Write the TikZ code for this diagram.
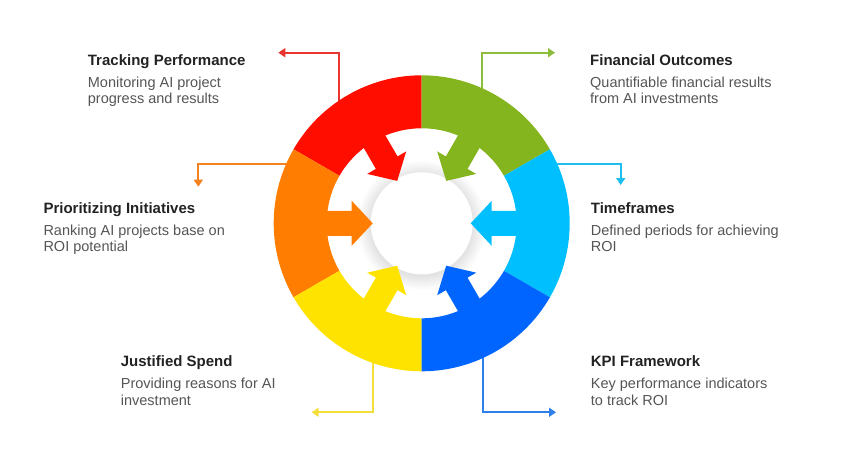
\documentclass[tikz,border=0pt]{standalone}
\usepackage{fontspec}
\setmainfont{Liberation Sans}
\usetikzlibrary{arrows.meta}
\definecolor{cred}{HTML}{FF0E00}
\definecolor{cgreen}{HTML}{85B51E}
\definecolor{ccyan}{HTML}{00BFFF}
\definecolor{cblue}{HTML}{0064FF}
\definecolor{cyellow}{HTML}{FFE300}
\definecolor{corange}{HTML}{FF7D00}
\definecolor{lred}{HTML}{E8352D}
\definecolor{lgreen}{HTML}{8DBD3C}
\definecolor{lcyan}{HTML}{1EBEF0}
\definecolor{lblue}{HTML}{2F7FE8}
\definecolor{lyellow}{HTML}{F5DE3A}
\definecolor{lorange}{HTML}{F58220}
\definecolor{ttl}{HTML}{222222}
\definecolor{dsc}{HTML}{555555}
\tikzset{
  titletext/.style={anchor=base west, inner sep=0pt, text=ttl, font=\fontsize{15}{18}\selectfont\bfseries},
  desctext/.style={anchor=base west, inner sep=0pt, text=dsc, font=\fontsize{14.5}{17}\selectfont},
  conn/.style={line width=1.7pt, -{Triangle[length=7pt,width=9pt]}},
}
\newcommand{\segm}[2]{%
  \fill[#2] (#1-30:148) arc[start angle=#1-30, end angle=#1+30, radius=148]
     -- (#1+30:95) arc[start angle=#1+30, end angle=#1-30, radius=95] -- cycle;
  \fill[#2, rotate=#1] (98,12.5) -- (70,12.5) -- (70,22.5) -- (49,0) -- (70,-22.5) -- (70,-12.5) -- (98,-12.5) -- cycle;
}
\begin{document}
\begin{tikzpicture}[x=1pt, y=1pt]
\useasboundingbox (0,0) rectangle (843,448);
% connectors
\coordinate (r0) at (339,338);   \coordinate (r1) at (278.3,395.3);
\coordinate (g0) at (481.7,338); \coordinate (g1) at (555,395.3);
\coordinate (o0) at (300,284);   \coordinate (o1) at (198.3,261.3);
\coordinate (c0) at (545,284);   \coordinate (c1) at (620.7,263);
\coordinate (y0) at (373.3,98);  \coordinate (y1) at (311.7,35.7);
\coordinate (b0) at (482.7,98);  \coordinate (b1) at (556,35.7);
\draw[conn, lred] (r0) |- (r1);
\draw[conn, lgreen] (g0) |- (g1);
\draw[conn, lorange] (o0) -| (o1);
\draw[conn, lcyan] (c0) -| (c1);
\draw[conn, lyellow] (y0) |- (y1);
\draw[conn, lblue] (b0) |- (b1);
% wheel
\begin{scope}[shift={(421.7,224.7)}]
  \foreach \r in {64,62,...,52} {\fill[black, opacity=0.016] (0,-2) circle[radius=\r];}
  \fill[white] (0,0) circle[radius=51];
  \segm{120}{cred}
  \segm{60}{cgreen}
  \segm{180}{corange}
  \segm{0}{ccyan}
  \segm{240}{cyellow}
  \segm{300}{cblue}
\end{scope}
% texts
\node[titletext] (t1) at (87.7,382.3) {Tracking Performance};
\node[desctext] (d1a) at (87.7,360.3) {Monitoring AI project};
\node[desctext] (d1b) at (87.7,344) {progress and results};
\node[titletext] (t2) at (590,382.3) {Financial Outcomes};
\node[desctext] (d2a) at (590,360.3) {Quantifiable financial results};
\node[desctext] (d2b) at (590,344) {from AI investments};
\node[titletext] (t3) at (43.3,234.7) {Prioritizing Initiatives};
\node[desctext] (d3a) at (43.3,213) {Ranking AI projects base on};
\node[desctext] (d3b) at (43.3,196.7) {ROI potential};
\node[titletext] (t4) at (590.7,234.7) {Timeframes};
\node[desctext] (d4a) at (590.7,213) {Defined periods for achieving};
\node[desctext] (d4b) at (590.7,196.7) {ROI};
\node[titletext] (t5) at (120.7,81.3) {Justified Spend};
\node[desctext] (d5a) at (120.7,59.7) {Providing reasons for AI};
\node[desctext] (d5b) at (120.7,43) {investment};
\node[titletext] (t6) at (590.7,81.3) {KPI Framework};
\node[desctext] (d6a) at (590.7,59.7) {Key performance indicators};
\node[desctext] (d6b) at (590.7,43) {to track ROI};
\end{tikzpicture}
\end{document}
